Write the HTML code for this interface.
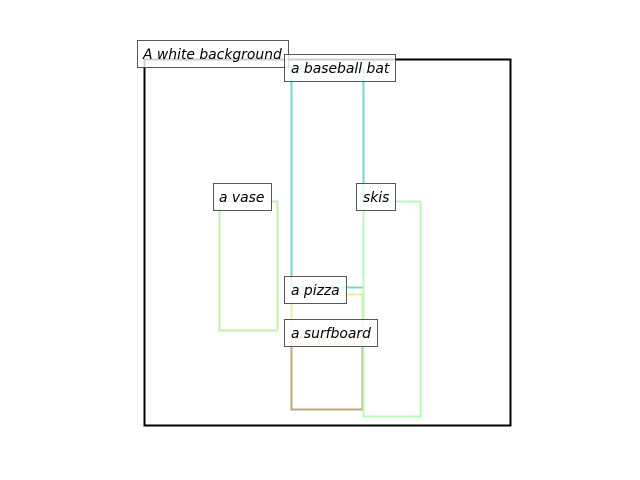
<!DOCTYPE html>
<html><head><meta charset="utf-8"><style>
html,body{margin:0;padding:0;background:#fff;width:640px;height:480px;overflow:hidden}
text{font-family:"DejaVu Sans","Liberation Sans",sans-serif;font-style:italic;font-size:13.9px;fill:#000}
</style></head><body>
<svg width="640" height="480" xmlns="http://www.w3.org/2000/svg">
<rect x="144.5" y="59.5" width="366" height="366" fill="none" stroke="#000" stroke-width="2"/>
<rect x="291.5" y="68.5" width="72" height="219" fill="none" stroke="#70d8c8" stroke-width="2"/>
<rect x="219.5" y="201.5" width="58" height="129" fill="none" stroke="#c8ecaa" stroke-width="2"/>
<rect x="291.5" y="294.5" width="71" height="50" fill="none" stroke="#e2f0a0" stroke-width="2"/>
<rect x="291.5" y="337.5" width="71" height="72" fill="none" stroke="#c0a878" stroke-width="2"/>
<rect x="363.5" y="201.5" width="57" height="215" fill="none" stroke="#b8f8b8" stroke-width="2"/>
<g stroke="#444" stroke-opacity="0.9" stroke-width="1" fill="#fff" fill-opacity="0.8">
<rect x="137.5" y="40.5" width="151" height="27"/>
<rect x="284.5" y="54.5" width="111" height="27"/>
<rect x="213.5" y="183.5" width="58" height="27"/>
<rect x="356.5" y="183.5" width="39" height="27"/>
<rect x="284.5" y="276.5" width="62" height="27"/>
<rect x="284.5" y="319.5" width="93" height="27"/>
</g>
<text x="143" y="59">A white background</text>
<text x="291" y="73">a baseball bat</text>
<text x="219" y="202">a vase</text>
<text x="363" y="202">skis</text>
<text x="291" y="295">a pizza</text>
<text x="291" y="338">a surfboard</text>
</svg>
</body></html>
